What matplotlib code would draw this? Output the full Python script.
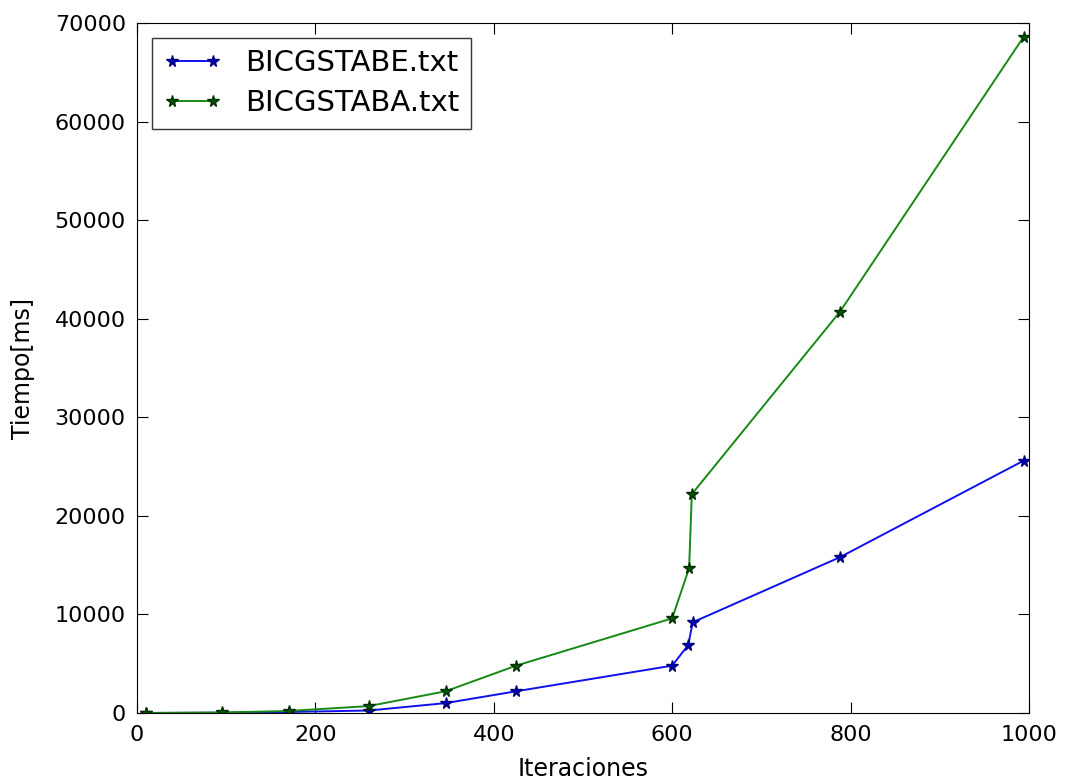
import matplotlib
matplotlib.use("Agg")
import matplotlib.pyplot as plt

# iterations vs time for both solvers
iter_e = [10, 95, 170, 260, 346, 425, 600, 618, 623, 788, 994]
time_e = [0, 30, 100, 250, 1000, 2200, 4800, 6900, 9200, 15800, 25600]

iter_a = [10, 95, 170, 260, 346, 425, 600, 619, 622, 788, 994]
time_a = [0, 50, 200, 700, 2200, 4800, 9600, 14700, 22200, 40700, 68600]

labels = ["BICGSTABE.txt", "BICGSTABA.txt"]

plt.rcParams['font.family'] = ['DejaVu Sans']
plt.rcParams['xtick.direction'] = 'in'
plt.rcParams['ytick.direction'] = 'in'

fig = plt.figure(figsize=(10.65, 7.84), dpi=100)
ax = fig.add_axes([0.1286, 0.0906, 0.8376, 0.88])

ax.plot(iter_e, time_e, '-*', color='#1010ee', markeredgecolor='#000080',
        markerfacecolor='#0000bb', markersize=8.5, linewidth=1.4, label=labels[0])
ax.plot(iter_a, time_a, '-*', color='#158a15', markeredgecolor='#003000',
        markerfacecolor='#005500', markersize=8.5, linewidth=1.4, label=labels[1])

ax.set_xlim(0, 1000)
ax.set_ylim(0, 70000)
ax.set_xticks(range(0, 1001, 200))
ax.set_yticks(range(0, 70001, 10000))
ax.tick_params(axis='x', labelsize=16, length=8, top=True, pad=9)
ax.tick_params(axis='y', labelsize=16, length=8, right=True, pad=8)
ax.set_xlabel("Iteraciones", fontsize=17, labelpad=8)
ax.set_ylabel("Tiempo[ms]", fontsize=17, labelpad=14)

leg = ax.legend(loc='upper left', fontsize=21, fancybox=False, numpoints=2,
                handlelength=2.0, borderaxespad=0.5, labelspacing=0.4)
leg.get_frame().set_edgecolor('black')
leg.get_frame().set_linewidth(1.0)

fig.savefig("out.png", dpi=100)
